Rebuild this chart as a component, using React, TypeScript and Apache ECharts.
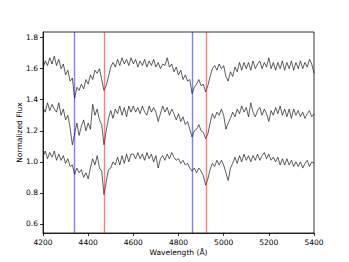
import React, { useEffect, useRef } from "react";
import * as echarts from "echarts";

const wavelengths = [
  4200, 4210, 4220, 4230, 4240, 4250, 4260, 4270, 4280, 4290,
  4300, 4310, 4320, 4330, 4340, 4350, 4360, 4370, 4380, 4390,
  4400, 4410, 4420, 4430, 4440, 4450, 4460, 4470, 4480, 4490,
  4500, 4510, 4520, 4530, 4540, 4550, 4560, 4570, 4580, 4590,
  4600, 4610, 4620, 4630, 4640, 4650, 4660, 4670, 4680, 4690,
  4700, 4710, 4720, 4730, 4740, 4750, 4760, 4770, 4780, 4790,
  4800, 4810, 4820, 4830, 4840, 4850, 4860, 4870, 4880, 4890,
  4900, 4910, 4920, 4930, 4940, 4950, 4960, 4970, 4980, 4990,
  5000, 5010, 5020, 5030, 5040, 5050, 5060, 5070, 5080, 5090,
  5100, 5110, 5120, 5130, 5140, 5150, 5160, 5170, 5180, 5190,
  5200, 5210, 5220, 5230, 5240, 5250, 5260, 5270, 5280, 5290,
  5300, 5310, 5320, 5330, 5340, 5350, 5360, 5370, 5380, 5390,
  5400,
];

const fluxTop = [
  1.6, 1.65, 1.62, 1.67, 1.63, 1.68, 1.62, 1.66, 1.6, 1.63,
  1.56, 1.59, 1.52, 1.54, 1.41, 1.48, 1.46, 1.5, 1.47, 1.53,
  1.5, 1.56, 1.53, 1.59, 1.57, 1.6, 1.53, 1.46, 1.49, 1.55,
  1.61, 1.64, 1.61, 1.66, 1.62, 1.67, 1.63, 1.66, 1.62, 1.67,
  1.63, 1.66, 1.61, 1.65, 1.62, 1.66, 1.61, 1.65, 1.62, 1.66,
  1.61, 1.64, 1.6, 1.63, 1.62, 1.67, 1.61, 1.63, 1.58, 1.61,
  1.56, 1.59, 1.53, 1.56, 1.52, 1.53, 1.44, 1.48, 1.5, 1.53,
  1.49, 1.5, 1.45, 1.49, 1.55, 1.6, 1.62, 1.59, 1.63, 1.6,
  1.62, 1.55, 1.52, 1.58, 1.55, 1.61, 1.58, 1.64, 1.59, 1.64,
  1.6, 1.64, 1.59, 1.65, 1.6, 1.63, 1.65, 1.6, 1.64, 1.61,
  1.67, 1.6, 1.64, 1.59, 1.64, 1.6, 1.65, 1.59, 1.64, 1.6,
  1.65, 1.59, 1.64, 1.6, 1.65, 1.6, 1.64, 1.61, 1.66, 1.63,
  1.57,
];

const fluxMiddle = [
  1.35, 1.32, 1.38, 1.33, 1.37, 1.34, 1.32, 1.38, 1.3, 1.34,
  1.27, 1.3, 1.22, 1.11, 1.18, 1.25, 1.17, 1.23, 1.27, 1.2,
  1.25, 1.21, 1.37, 1.3, 1.34, 1.27, 1.24, 1.11, 1.2, 1.28,
  1.33, 1.28, 1.34, 1.31, 1.36, 1.3, 1.35, 1.29, 1.36, 1.32,
  1.36, 1.32, 1.35, 1.31, 1.36, 1.32, 1.3, 1.36, 1.32, 1.35,
  1.32, 1.26, 1.31, 1.36, 1.32, 1.35, 1.3, 1.34, 1.31, 1.27,
  1.31, 1.26, 1.29, 1.24, 1.26, 1.21, 1.16, 1.2, 1.21, 1.24,
  1.2, 1.19, 1.15, 1.18, 1.25, 1.31, 1.28, 1.32, 1.3, 1.34,
  1.3, 1.21, 1.25, 1.28, 1.32, 1.29, 1.34, 1.31, 1.36, 1.32,
  1.35, 1.29, 1.38, 1.32, 1.29, 1.33, 1.35, 1.3, 1.34, 1.31,
  1.26, 1.33, 1.3, 1.35, 1.31, 1.36, 1.3, 1.34, 1.29, 1.34,
  1.28, 1.34, 1.3, 1.33, 1.29, 1.32, 1.28, 1.31, 1.33, 1.29,
  1.31,
];

const fluxBottom = [
  1.03, 1.07, 1.02, 1.06, 1.03, 1.07, 1.01, 1.05, 1.01, 1.04,
  0.99, 1.02, 0.97, 0.98, 0.92, 0.96, 0.93, 0.95, 0.9, 0.93,
  0.89, 0.96, 1.02, 0.98, 1.04, 0.96, 0.94, 0.79, 0.87, 0.95,
  0.96, 1.0, 0.98, 1.03, 0.98, 1.04, 0.99, 1.05, 1.0, 1.05,
  1.05, 1.02, 1.06, 1.02, 1.05, 1.01, 1.06, 1.02, 1.05, 1.0,
  1.04, 0.96, 1.02, 1.04, 1.01, 1.05, 1.02, 1.06, 1.03, 1.01,
  1.02, 0.99, 1.01, 0.98, 0.99, 0.96, 0.94, 0.96, 0.93, 0.96,
  0.94, 0.91, 0.85, 0.89, 0.95, 0.99, 0.97, 1.01, 0.98, 1.01,
  0.98, 0.93, 0.88, 0.96, 0.99, 1.03, 0.99, 1.04, 1.0, 1.05,
  1.01, 1.04, 1.0, 1.04, 1.01, 1.05, 1.01, 1.04, 1.06, 1.02,
  1.05, 1.01, 1.03, 1.0, 1.03, 0.98, 1.02, 0.98, 1.02, 0.98,
  1.01, 0.97, 1.0, 0.97, 1.0, 0.96, 0.99, 1.01, 0.97, 1.0,
  0.99,
];

const hydrogenLines = [4340, 4861];
const heliumLines = [4471, 4922];
const yTicks = [0.6, 0.8, 1.0, 1.2, 1.4, 1.6, 1.8];

const FONT = "DejaVu Sans";

export default function App() {
  const ref = useRef<HTMLDivElement>(null);
  useEffect(() => {
    document.body.style.margin = "0";
    const chart = echarts.init(ref.current!, null, { renderer: "svg" });
    const pairs = (ys: number[]) => wavelengths.map((w, i) => [w, ys[i]]);
    const spec = (ys: number[]) => ({
      type: "line",
      data: pairs(ys),
      showSymbol: false,
      symbol: "none",
      lineStyle: { color: "#1a1a1a", width: 0.7 },
      z: 2,
      silent: true,
    });
    chart.setOption({
      animation: false,
      textStyle: { fontFamily: FONT },
      grid: {
        left: 43,
        right: 35,
        top: 32,
        bottom: 29,
        show: true,
        borderColor: "#000",
        borderWidth: 0.8,
      },
      xAxis: {
        type: "value",
        min: 4200,
        max: 5400,
        interval: 200,
        name: "Wavelength (Å)",
        nameLocation: "middle",
        nameGap: 15,
        nameMoveOverlap: false,
        nameTextStyle: { fontFamily: FONT, fontSize: 7.5, color: "#000" },
        axisLine: { show: true, lineStyle: { color: "#000", width: 0.8 } },
        axisTick: { show: true, length: 3, lineStyle: { color: "#000", width: 0.8 } },
        axisLabel: {
          fontFamily: FONT,
          fontSize: 7.5,
          color: "#000",
          margin: 5,
          formatter: (v: number) => String(v),
        },
        splitLine: { show: false },
      },
      yAxis: {
        type: "value",
        min: 0.542,
        max: 1.836,
        name: "Normalized Flux",
        nameLocation: "middle",
        nameGap: 20,
        nameMoveOverlap: false,
        nameTextStyle: { fontFamily: FONT, fontSize: 7.5, color: "#000" },
        axisLine: { show: true, lineStyle: { color: "#000", width: 0.8 } },
        axisTick: {
          show: true,
          length: 3,
          customValues: yTicks,
          lineStyle: { color: "#000", width: 0.8 },
        },
        axisLabel: {
          fontFamily: FONT,
          fontSize: 7.5,
          color: "#000",
          margin: 5,
          customValues: yTicks,
          formatter: (v: number) => v.toFixed(1),
        },
        splitLine: { show: false },
      },
      series: [
        spec(fluxTop),
        spec(fluxMiddle),
        spec(fluxBottom),
        {
          type: "line",
          data: [],
          z: 3,
          silent: true,
          markLine: {
            silent: true,
            symbol: "none",
            label: { show: false },
            data: [
              ...hydrogenLines.map((x) => ({
                xAxis: x,
                lineStyle: { color: "rgba(0,0,255,0.5)", width: 1.4, type: "solid" },
              })),
              ...heliumLines.map((x) => ({
                xAxis: x,
                lineStyle: { color: "rgba(255,0,0,0.5)", width: 1.4, type: "solid" },
              })),
            ],
          },
        },
      ],
    });
    return () => chart.dispose();
  }, []);
  return <div ref={ref} style={{ width: 349, height: 262 }} />;
}
